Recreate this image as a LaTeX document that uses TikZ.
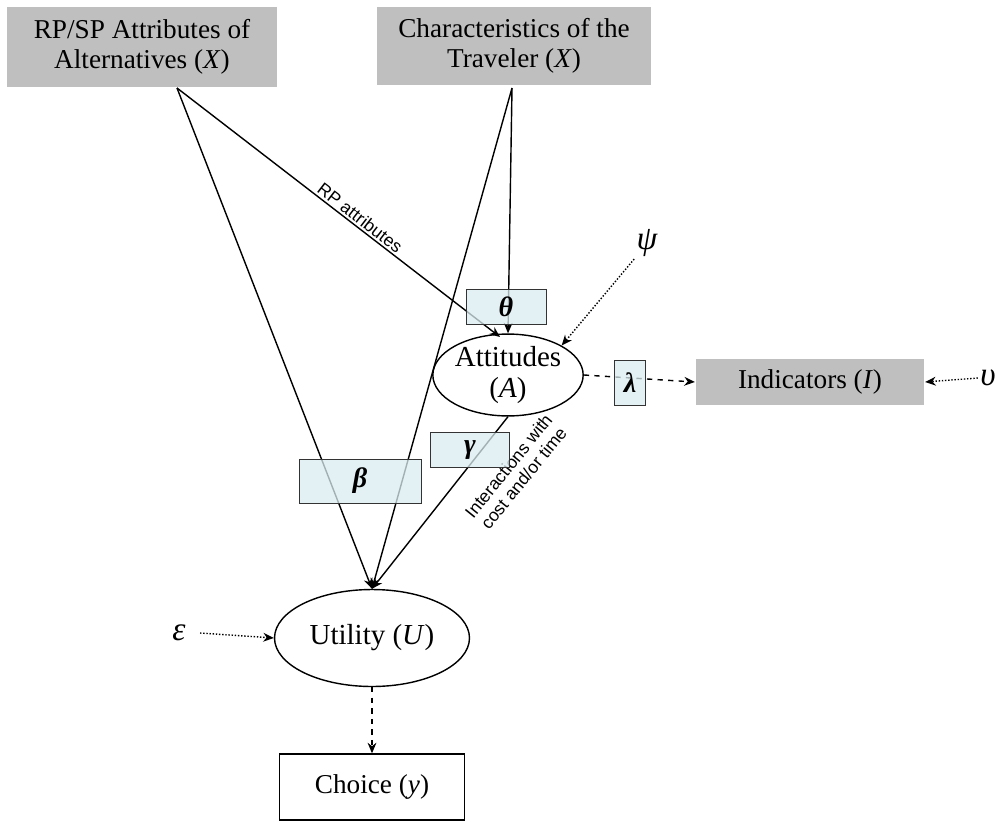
\documentclass[tikz,border=0pt]{standalone}
\usepackage{amsmath, amssymb}
\usepackage{fontspec}
\setmainfont{Liberation Serif}
\setsansfont{Liberation Sans}
\usepackage{tikz}
\usetikzlibrary{shapes.geometric, arrows.meta, positioning, calc}
\definecolor{parblue}{RGB}{218,236,240}

\begin{document}
\begin{tikzpicture}[
    x=0.02cm, y=-0.02cm,
    font=\fontsize{15.5}{17}\selectfont,
    thick,
    >={Stealth[length=6pt, width=5pt]},
    gbox/.style={rectangle, fill=gray!50, minimum width=#1, align=center, inner sep=2pt},
    pbox/.style={rectangle, draw=black!80, thin, fill=parblue, fill opacity=0.75, text opacity=1, minimum width=#1, inner sep=1pt, font=\fontsize{16}{16}\selectfont\bfseries\itshape},
    latent/.style={ellipse, draw, minimum width=#1, align=center, inner sep=0pt, font=\fontsize{16.5}{18}\selectfont},
    err/.style={font=\fontsize{19}{19}\selectfont\itshape, inner sep=1pt},
    lbl/.style={font=\sffamily\fontsize{10}{11}\selectfont, align=center, inner sep=1pt},
]
    \useasboundingbox (0,0) rectangle (996,821);

    % observed inputs
    \node[gbox=5.4cm, minimum height=1.62cm] (attr) at (142,47) {RP/SP Attributes of\\Alternatives (\textit{X})};
    \node[gbox=5.5cm, minimum height=1.58cm] (trav) at (514,46) {Characteristics of the\\Traveler (\textit{X})};

    % latent variables
    \node[latent=2.96cm, minimum height=1.56cm] (att) at (508,375) {Attitudes\\(\textit{A})};
    \node[latent=3.9cm, minimum height=1.94cm] (util) at (372,638) {Utility (\textit{U})};

    % outputs
    \node[gbox=4.58cm, minimum height=0.92cm] (ind) at (810,382) {Indicators (\textit{I})};
    \node[rectangle, draw, minimum width=3.7cm, minimum height=1.32cm] (choice) at (372,787) {Choice (\textit{y})};

    % error terms
    \node[err] (psi) at (647,243) {ψ};
    \node[err] (eps) at (179,633) {ε};
    \node[err] (ups) at (988,378) {υ};

    \coordinate (a0) at (177,88);
    \coordinate (t0) at (512,88);
    \coordinate (attin) at (500,337);

    \draw[->] (a0) -- node[lbl, above, sloped, pos=0.55] {RP attributes} (attin);
    \draw[->] (t0) -- (att.north);
    \draw[->] (a0) -- (util.north);
    \draw[->] (t0) -- (util.north);
    \draw[->] (att.south) -- (util.north);
    \node[lbl, rotate=51] (inter) at (516,472) {Interactions with\\cost and/or time};

    \draw[->, dashed] (att.east) -- (ind.west);
    \draw[->, dashed] (util.south) -- (choice.north);

    \draw[->, densely dotted] (psi.south west) -- (att.north east);
    \draw[->, densely dotted] (eps.east) ++(12,0) -- (util.west);
    \draw[->, densely dotted] (ups.west) -- (ind.east);

    % parameters
    \node[pbox=1.6cm, minimum height=0.7cm] (theta) at (506,307) {θ};
    \node[pbox=1.58cm, minimum height=0.7cm] (gamma) at (470,450) {γ};
    \node[pbox=2.44cm, minimum height=0.88cm] (beta) at (360,481) {β};
    \node[pbox=0.62cm, minimum height=0.9cm] (lambda) at (630,383) {λ};

\end{tikzpicture}
\end{document}
